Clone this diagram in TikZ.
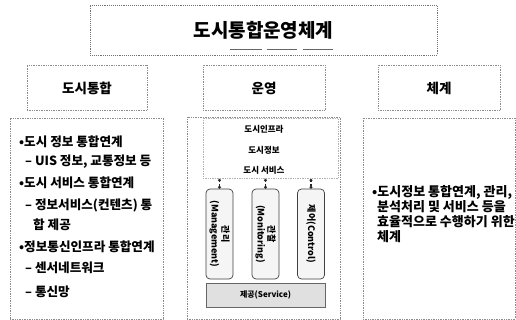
\documentclass[tikz,border=0pt]{standalone}
\usepackage{fontspec}
\setmainfont{Noto Sans CJK KR}
\usetikzlibrary{arrows.meta}
\tikzset{
  frame/.style={draw=black!45, densely dotted, line width=0.7pt},
  head/.style={frame, minimum height=45, inner sep=0pt, font=\fontsize{13.5}{15}\selectfont\bfseries},
  item/.style={anchor=west, inner sep=0pt, font=\fontsize{12.6}{14}\selectfont\bfseries},
  layer/.style={inner sep=0pt, font=\fontsize{8.5}{10}\selectfont\bfseries},
  func/.style={draw=black!75, rounded corners=4pt, fill=black!4, line width=0.7pt, rotate=-90,
    minimum width=90, minimum height=27, inner sep=0pt, align=center, font=\fontsize{9}{10.5}\selectfont\bfseries},
  link/.style={black!85, line width=1.4pt, dotted, {Circle[length=2.8pt]}-{Circle[length=2.8pt]}}
}
\begin{document}
\begin{tikzpicture}[x=1pt, y=-1pt]
\useasboundingbox (0,0) rectangle (516,320);
\node[frame, draw=black!55, line width=0.9pt, minimum width=347, minimum height=50, font=\fontsize{19}{21}\selectfont\bfseries] (title) at (263.5,30){도시통합운영체계};
\draw[black!60, line width=0.8pt] (230,49) -- (262,49);
\draw[black!60, line width=0.8pt] (267,49) -- (297,49);
\draw[black!60, line width=0.8pt] (303,49) -- (333,49);
\node[head, minimum width=120] (hint) at (87,88){도시통합};
\node[head, minimum width=122] (hops) at (264,88){운영};
\node[head, minimum width=122] (hsys) at (439,88){체계};
\node[frame, minimum width=153, minimum height=201] (intbox) at (86.5,218.5){};
\node[item] (i1) at (19,142){•도시 정보 통합연계};
\node[item] (i2) at (25,162){– UIS 정보, 교통정보 등};
\node[item] (i3) at (19,183){•도시 서비스 통합연계};
\node[item] (i4) at (25,205){– 정보서비스(컨텐츠) 통};
\node[item] (i5) at (33,225){합 제공};
\node[item] (i6) at (19,247){•정보통신인프라 통합연계};
\node[item] (i7) at (25,268){– 센서네트워크};
\node[item] (i8) at (25,292){– 통신망};
\node[frame, minimum width=153, minimum height=202] (opsbox) at (263.5,218){};
\node[frame, draw=black!30, minimum width=135, minimum height=60] (layerbox) at (270.5,148.5){};
\node[layer] (infra) at (264,129){도시인프라};
\node[layer] (info) at (264,150){도시정보};
\node[layer] (serv) at (264,170){도시 서비스};
\node[func] (mgmt) at (219.5,234){관리\\(Management)};
\node[func] (moni) at (265.5,234){관찰\\(Monitoring)};
\node[func] (ctrl) at (311,234){제어(Control)};
\draw[link] (layerbox.south -| mgmt.west) -- (mgmt.west);
\draw[link] (layerbox.south -| moni.west) -- (moni.west);
\draw[link] (layerbox.south -| ctrl.west) -- (ctrl.west);
\node[draw=black!60, fill=black!12, line width=0.6pt, minimum width=119, minimum height=24, inner sep=0pt, font=\fontsize{8}{9}\selectfont\bfseries] (provide) at (265.5,295){제공(Service)};
\node[frame, minimum width=152, minimum height=201] (sysbox) at (439,218.5){};
\node[item, font=\fontsize{13}{14}\selectfont\bfseries] (s1) at (372,192){•도시정보 통합연계, 관리,};
\node[item, font=\fontsize{13}{14}\selectfont\bfseries] (s2) at (377,207){분석처리 및 서비스 등을};
\node[item, font=\fontsize{13}{14}\selectfont\bfseries] (s3) at (377,222){효율적으로 수행하기 위한};
\node[item, font=\fontsize{13}{14}\selectfont\bfseries] (s4) at (377,237){체계};
\end{tikzpicture}
\end{document}
